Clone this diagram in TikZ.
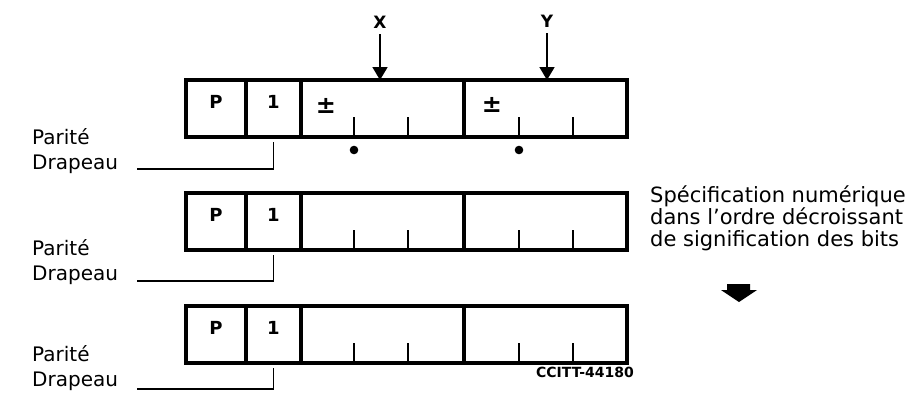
\documentclass[tikz,border=0pt]{standalone}
\usepackage{fontspec}
\setmainfont{DejaVu Sans}
\usetikzlibrary{arrows.meta,positioning}

\begin{document}
\begin{tikzpicture}[x=1pt,y=1pt]

\tikzset{
  cell/.style  = {draw, line width=3.2pt, inner sep=0pt, outer sep=0pt,
                  minimum height=57pt, text depth=13pt,
                  font=\fontsize{18}{20}\selectfont\bfseries},
  bitp/.style  = {cell, minimum width=60pt},
  bitf/.style  = {cell, minimum width=55pt},
  field/.style = {cell, minimum width=163pt},
  tick/.style  = {line width=2.2pt},
  lead/.style  = {line width=1.5pt},
  ptr/.style   = {-{Triangle[length=13pt,width=15pt]}, line width=1.8pt},
  lbl/.style   = {font=\fontsize{20}{25}\selectfont, align=left, inner sep=0pt},
  note/.style  = {font=\fontsize{21}{22}\selectfont, align=left, inner sep=0pt},
  tag/.style   = {font=\fontsize{17}{19}\selectfont\bfseries, inner sep=0pt},
  sgn/.style   = {tag, font=\fontsize{24}{26}\selectfont\bfseries},
}

\useasboundingbox (0,0) rectangle (913,-392);

\node[bitp, anchor=north west] (p1) at (186,-80) {P};
\node[bitf, right=0pt of p1] (c1) {1};
\node[field, right=0pt of c1] (f1a) {};
\node[field, right=0pt of f1a] (f1b) {};
\node[bitp, anchor=north west] (p2) at (186,-193) {P};
\node[bitf, right=0pt of p2] (c2) {1};
\node[field, right=0pt of c2] (f2a) {};
\node[field, right=0pt of f2a] (f2b) {};
\node[bitp, anchor=north west] (p3) at (186,-306) {P};
\node[bitf, right=0pt of p3] (c3) {1};
\node[field, right=0pt of c3] (f3a) {};
\node[field, right=0pt of f3a] (f3b) {};

\draw[tick] ([xshift=53]f1a.south west) -- ++(0,20) ([xshift=107]f1a.south west) -- ++(0,20);
\draw[tick] ([xshift=55]f1b.south west) -- ++(0,20) ([xshift=109]f1b.south west) -- ++(0,20);
\draw[tick] ([xshift=53]f2a.south west) -- ++(0,20) ([xshift=107]f2a.south west) -- ++(0,20);
\draw[tick] ([xshift=55]f2b.south west) -- ++(0,20) ([xshift=109]f2b.south west) -- ++(0,20);
\draw[tick] ([xshift=53]f3a.south west) -- ++(0,20) ([xshift=107]f3a.south west) -- ++(0,20);
\draw[tick] ([xshift=55]f3b.south west) -- ++(0,20) ([xshift=109]f3b.south west) -- ++(0,20);

\node[sgn] (s1) at (326,-106) {±};
\node[sgn] (s2) at (492,-105) {±};
\fill ([xshift=53]f1a.south west) ++(0,-13) circle (4.3);
\fill ([xshift=55]f1b.south west) ++(0,-13) circle (4.3);

\node[tag] (xk) at (380,-22) {X};
\node[tag] (yk) at (547,-21) {Y};
\draw[ptr, shorten <=6pt] (xk) -- (xk |- f1a.north);
\draw[ptr, shorten <=6pt] (yk) -- (yk |- f1b.north);

\coordinate (e1) at (137,-169);
\coordinate (e2) at (137,-281);
\coordinate (e3) at (137,-389);
\draw[lead] ([yshift=-5pt]c1.south) |- (e1);
\draw[lead] ([yshift=-5pt]c2.south) |- (e2);
\draw[lead] ([yshift=-5pt]c3.south) |- (e3);

\node[lbl, anchor=west] (pd1) at (32,-151) {Parité\\Drapeau};
\node[lbl, anchor=west] (pd2) at (32,-262) {Parité\\Drapeau};
\node[lbl, anchor=west] (pd3) at (32,-368) {Parité\\Drapeau};

\node[note, anchor=west] (spec) at (650,-218) {Spécification numérique\\dans l'ordre décroissant\\de signification des bits};
\fill (727,-284) -- (750,-284) -- (750,-290) -- (757,-290) -- (739,-302) -- (721,-290) -- (727,-290) -- cycle;
\node[tag, font=\fontsize{14}{16}\selectfont\bfseries, anchor=east] (ref) at (634,-372) {CCITT-44180};
\end{tikzpicture}
\end{document}
